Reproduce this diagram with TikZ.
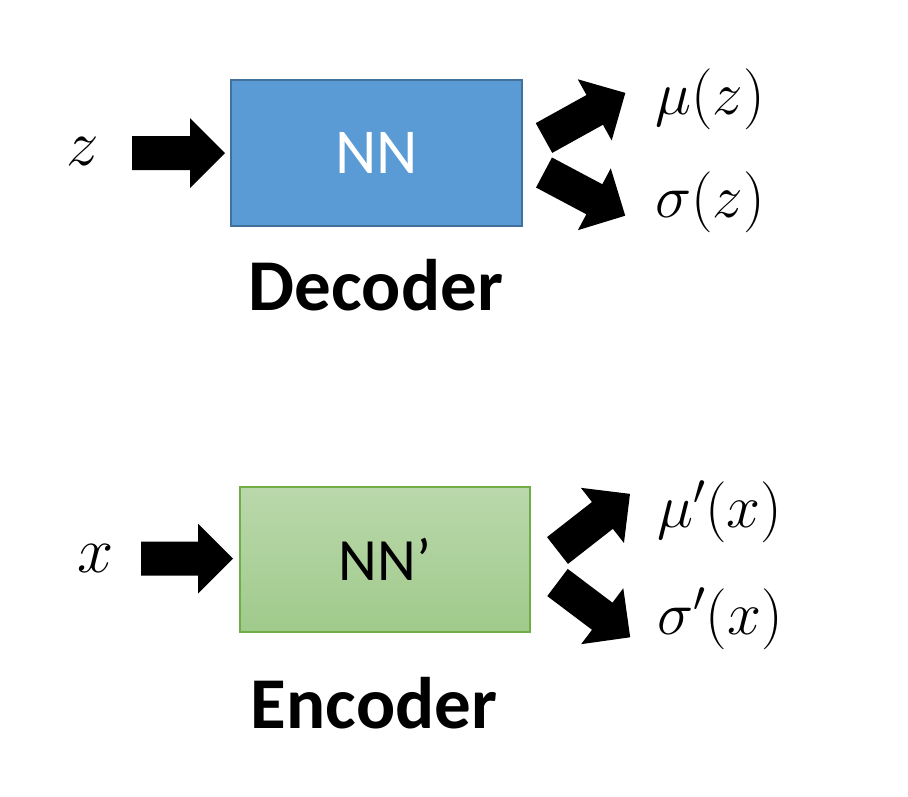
\RequirePackage{fix-cm}
\documentclass[tikz,border=0pt]{standalone}
\usepackage{fontspec}
\newfontfamily\calibri{Carlito}
\definecolor{nnblue}{HTML}{5B9BD5}
\definecolor{nnblueedge}{HTML}{41719C}
\definecolor{nngreentop}{RGB}{186,216,171}
\definecolor{nngreenbot}{RGB}{160,202,140}
\definecolor{nngreenedge}{RGB}{112,173,71}
\tikzset{
  pics/blockarrow/.style={code={
    \fill[black] (0,-17) -- ({#1-35},-17) -- ({#1-35},-35) -- (#1,0) -- ({#1-35},35) -- ({#1-35},17) -- (0,17) -- cycle;
  }},
  nnbox/.style={minimum width=291pt, minimum height=146pt, line width=1.5pt, inner sep=0pt,
    font=\calibri\fontsize{64}{76}\selectfont},
  mathlbl/.style={inner sep=0pt, anchor=base west, font=\fontsize{61}{72}\selectfont},
  varlbl/.style={inner sep=0pt, anchor=base, font=\fontsize{65}{78}\selectfont},
  caption/.style={inner sep=0pt, anchor=base, font=\calibri\bfseries\fontsize{73}{88}\selectfont}
}
\begin{document}
\begin{tikzpicture}[x=1pt,y=-1pt]
\useasboundingbox (0,0) rectangle (908,796);
% Decoder
\node[nnbox, fill=nnblue, draw=nnblueedge, text=white] (dec) at (376.5,153) {NN};
\node[varlbl] (z) at (83,165) {$z$};
\node[mathlbl] (muz) at (655,114) {$\mu(z)$};
\node[mathlbl] (sigz) at (655,217) {$\sigma(z)$};
\node[caption] (declbl) at (376,310) {Decoder};
\coordinate (zin) at (132,153);
\coordinate (decup) at (544,138);
\coordinate (decdn) at (544,172.5);
\pic at (zin) {blockarrow=93};
\pic[rotate=29] at (decup) {blockarrow=93};
\pic[rotate=-28] at (decdn) {blockarrow=92};
% Encoder
\node[nnbox, minimum width=290pt, minimum height=145pt, top color=nngreentop, bottom color=nngreenbot, draw=nngreenedge, font=\calibri\fontsize{60}{72}\selectfont] (enc) at (385,559.5) {NN’};
\node[varlbl] (x) at (96,572) {$x$};
\node[mathlbl] (mux) at (657,527) {$\mu'(x)$};
\node[mathlbl] (sigx) at (657,634) {$\sigma'(x)$};
\node[caption] (enclbl) at (374,728) {Encoder};
\coordinate (xin) at (141,558.5);
\coordinate (encup) at (557.5,550.5);
\coordinate (encdn) at (557.5,582.5);
\pic at (xin) {blockarrow=92};
\pic[rotate=38] at (encup) {blockarrow=92};
\pic[rotate=-37] at (encdn) {blockarrow=91};
\end{tikzpicture}
\end{document}
